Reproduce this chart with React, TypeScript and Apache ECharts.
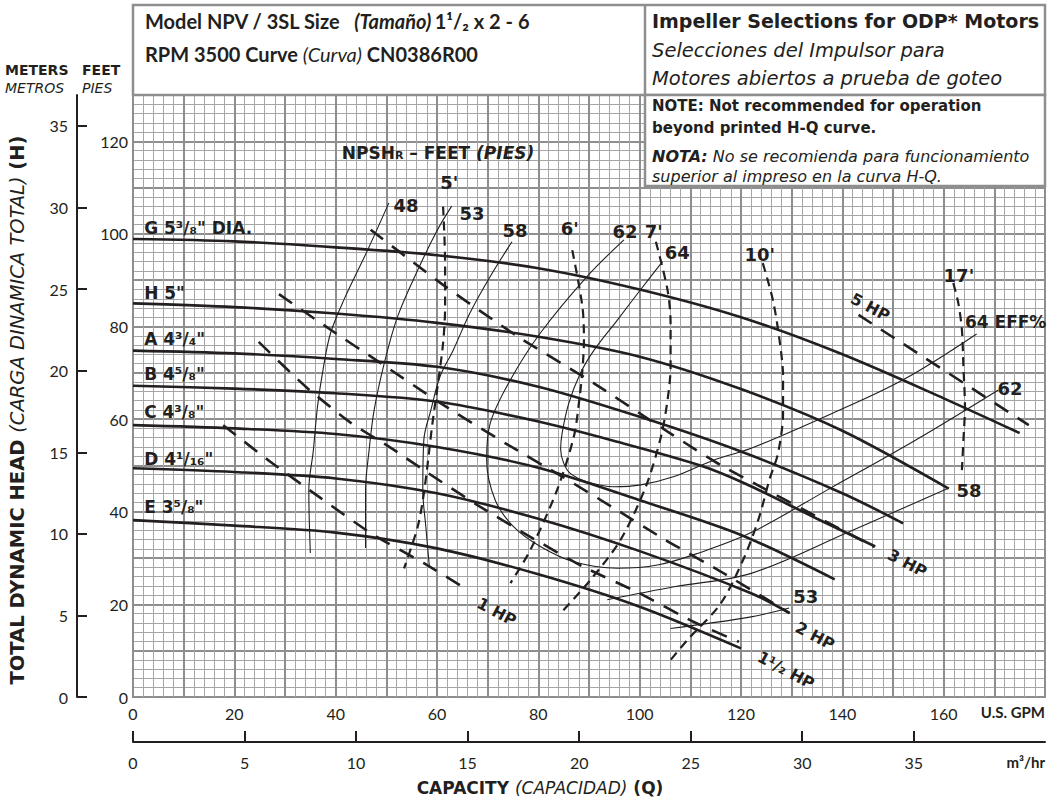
import React, { useEffect, useRef } from 'react';
import * as echarts from 'echarts';

// ---- tick labels ----
const gpmTickLabels = [0, 20, 40, 60, 80, 100, 120, 140, 160];
const feetTickLabels = [0, 20, 40, 60, 80, 100, 120];
const meterTicks = [0, 5, 10, 15, 20, 25, 30, 35];
const m3hTicks = [0, 5, 10, 15, 20, 25, 30, 35];

// ---- head-capacity curves (GPM, feet) ----
const headG = [[0, 98.9], [20, 98.4], [40, 97.1], [60, 95.4], [80, 92.6], [100, 88], [120, 82], [140, 74], [160, 64.5], [175, 57]];
const headH = [[0, 85], [20, 84.2], [40, 82.8], [60, 80.8], [80, 77.8], [100, 73.5], [120, 66.5], [140, 57.5], [161, 45]];
const headA = [[0, 74.8], [20, 74.2], [40, 73], [60, 71.3], [80, 67], [100, 60.5], [120, 53], [140, 44], [152, 37.5]];
const headB = [[0, 67.2], [20, 66.6], [40, 65.6], [60, 63.8], [80, 59.5], [95, 55.3], [112, 50], [121, 46], [135, 38.5], [146.5, 32.5]];
const headC = [[0, 58.7], [20, 58], [40, 56.8], [60, 54], [80, 49.5], [100, 42.5], [120, 35], [138.5, 25.4]];
const headD = [[0, 49.4], [20, 48.6], [40, 47.2], [60, 44], [80, 38.5], [100, 31.5], [122, 22.4], [129.6, 18.1]];
const headE = [[0, 38.2], [20, 37], [40, 35.5], [60, 32.1], [80, 26.5], [100, 19.5], [120, 10.5]];

// ---- efficiency contours (%) ----
const eff48 = [[50.5, 106.7], [46.3, 96.5], [41.6, 85.7], [39.0, 78.6], [37.6, 71.3], [36.4, 62.6], [35.6, 53.3], [34.7, 44.7], [35.0, 31.1]];
const eff53Left = [[62.9, 106.0], [60.1, 100.9], [56.2, 92.2], [52.2, 82.1], [49.6, 72.1], [47.6, 62.0], [46.6, 53.3], [45.9, 44.7], [45.9, 32.2]];
const eff53Right = [[106.1, 14.8], [122, 17.3], [129.5, 19.2]];
const eff58Left = [[74.8, 98.3], [70.5, 90.8], [66.5, 82.9], [63.2, 74.9], [60.6, 69.2], [58.8, 62.0], [57.4, 55.5], [57.2, 44.7], [57.8, 36.7], [58.5, 28.1]];
const eff58Right = [[93.6, 21.0], [106.8, 23.8], [122.0, 26.7], [140.8, 35.4], [160.9, 45.1]];
const eff62 = [[96.9, 98.7], [89.6, 90.8], [80.4, 78.6], [74.5, 68.5], [70.5, 59.1], [69.8, 51.2], [71.5, 42.5], [75.1, 36.8], [80.4, 32.5], [87.0, 29.2], [95.6, 27.8], [103.5, 28.5], [111.4, 31.0], [122.0, 35.5], [137.5, 45.0], [154.5, 55.5], [170.8, 66.3]];
const eff64 = [[104.5, 94.0], [100.2, 88.0], [95.6, 81.4], [91.0, 74.9], [88.3, 69.9], [86.0, 63.4], [84.7, 57.0], [84.4, 53.5], [85.0, 50.5], [86.3, 48.3], [89.6, 46.5], [94.9, 45.4], [100.2, 45.8], [106.8, 47.6], [114.7, 51.2], [122.0, 53.7], [137.5, 61.0], [152.0, 68.5], [166.5, 78.4]];

// ---- NPSHr lines (feet) ----
const npsh5 = [[61.2, 105.9], [61.6, 93.7], [61.6, 84.3], [61.2, 76.4], [60.1, 67.0], [59.1, 59.1], [57.5, 44.7], [56.2, 36.8], [53.5, 27.8]];
const npsh6 = [[86.7, 96.5], [88.7, 84.3], [89.0, 77.1], [88.7, 70.6], [88.0, 63.4], [87.0, 56.2], [83.7, 44.7], [78.4, 31.7], [74.5, 24.6]];
const npsh7 = [[103.2, 98.3], [105.5, 87.9], [106.1, 80.7], [106.1, 71.3], [105.5, 64.1], [104.2, 56.2], [101.2, 45.4], [96.2, 33.9], [90.3, 25.3], [84.4, 18.1]];
const npsh10 = [[124.3, 93.7], [126.3, 85.7], [127.6, 77.1], [128.3, 69.2], [128.3, 61.3], [127.3, 52.6], [125.6, 46.9], [123.6, 38.9], [120.7, 30.3], [116.0, 20.2], [109.4, 12.3], [106.1, 8.0]];
const npsh17 = [[161.9, 89.4], [162.9, 85.0], [163.6, 79.3], [163.9, 71.3], [164.2, 62.7], [163.9, 55.5], [163.6, 49.0]];

// ---- horsepower lines ----
const hp1 = [[17.8, 58.7], [27.1, 50.8], [37.0, 43.0], [46.9, 35.4], [57.4, 28.9], [65.5, 23.5]];
const hp15 = [[24.8, 76.7], [34.1, 67.0], [43.0, 59.2], [50.9, 53.8], [58.2, 48.4], [67.9, 41.5], [78.4, 34.6], [88.9, 28.1], [99.8, 22.5], [110.7, 16.2], [119.6, 11.9]];
const hp2 = [[28.8, 87.0], [39.0, 79.3], [48.9, 72.1], [60.6, 63.5], [74.1, 54.4], [84.7, 47.6], [94.9, 40.8], [105.1, 33.9], [116.0, 27.1], [129.6, 18.1]];
const hp3 = [[46.9, 100.9], [61.2, 89.0], [76.0, 77.8], [90.9, 67.8], [106.5, 56.6], [116.6, 49.7], [146.3, 32.4]];
const hp5 = [[143.2, 82.5], [176.8, 58.7]];

// ---- label texts ----
const headNames = ['G 5³/₈" DIA.', 'H 5"', 'A 4³/₄"', 'B 4⁵/₈"', 'C 4³/₈"', 'D 4¹/₁₆"', 'E 3⁵/₈"'];
const headLabelHeads = [101.3, 87.2, 77.3, 69.7, 61.5, 51.4, 41.0];
const smallLabels = ['48', '53', '58', '6\'', '62', '7\'', '64', '5\'', '10\'', '17\'', '62', '58', '53'];
const smallLabelAt = [[53.9, 106.2], [66.9, 104.5], [75.4, 100.8], [86.2, 101.1], [97.1, 100.6], [102.8, 100.6], [107.4, 95.9], [62.4, 111.0], [123.7, 95.5], [163.0, 91.1], [173.1, 66.7], [165.0, 44.5], [132.8, 21.6]];
const hpNames = ['5 HP', '3 HP', '2 HP', '1¹/₂ HP', '1 HP'];
const hpLabelAt = [[145.5, 84.2], [152.8, 28.9], [134.6, 13.2], [128.9, 5.8], [71.8, 18.4]];

const INK = '#231f20';
const GRIDMAJ = '#8e8e8e';
const GRIDMIN = '#a6a6a6';
const FONT = "Lato, 'Noto Sans', 'DejaVu Sans', sans-serif";
const WIDE = "'DejaVu Sans', Verdana, sans-serif";
const GPM_PER_M3H = 4.4029;

function lineSeries(name: string, data: number[][], width: number, type: any, smooth = 0.3) {
  return {
    name, type: 'line', data, showSymbol: false, symbol: 'none', smooth, silent: true,
    lineStyle: { color: INK, width, type }, z: 3,
  };
}

export default function App() {
  const ref = useRef<HTMLDivElement>(null);
  useEffect(() => {
    if (!ref.current) return;
    const chart = echarts.init(ref.current, undefined, { renderer: 'svg' });

    const headSeries = [headG, headH, headA, headB, headC, headD, headE].map((d, i) => lineSeries('head' + i, d, 2.6, 'solid', 0.3));
    const effSeries = [eff48, eff53Left, eff53Right, eff58Left, eff58Right, eff62, eff64].map((d, i) => lineSeries('eff' + i, d, 1.1, 'solid', 0.35));
    const npshSeries = [npsh5, npsh6, npsh7, npsh10, npsh17].map((d, i) => lineSeries('npsh' + i, d, 2.2, [9, 6], 0.3));
    const hpSeries = [hp1, hp15, hp2, hp3, hp5].map((d, i) => lineSeries('hp' + i, d, 2.6, [16, 11], 0.2));

    const labelData: any[] = [];
    headNames.forEach((t, i) => labelData.push({ value: [2.2, headLabelHeads[i]], label: { formatter: t, align: 'left', fontSize: 17 } }));
    smallLabels.forEach((t, i) => labelData.push({ value: smallLabelAt[i], label: { formatter: t } }));
    labelData.push({ value: [164.2, 81.0], label: { formatter: '64 EFF%', align: 'left', fontSize: 17 } });
    hpNames.forEach((t, i) => labelData.push({ value: hpLabelAt[i], label: { formatter: t, rotate: -28, fontSize: 16 } }));
    labelData.push({
      value: [60.2, 117.5],
      label: {
        formatter: '{b|NPSH}{s|R}{b| – FEET }{bi|(PIES)}',
        rich: {
          b: { fontFamily: WIDE, fontWeight: 'bold', fontSize: 17, color: INK },
          s: { fontFamily: WIDE, fontWeight: 'bold', fontSize: 11, color: INK, verticalAlign: 'bottom', padding: [6, 0, 0, 0] },
          bi: { fontFamily: WIDE, fontWeight: 'bold', fontStyle: 'italic', fontSize: 17, color: INK },
        },
      },
    });

    const labelSeries = {
      type: 'scatter', data: labelData, symbolSize: 0.1, silent: true, z: 6,
      itemStyle: { color: 'rgba(0,0,0,0)', opacity: 1 },
      label: { show: true, position: 'inside', fontFamily: WIDE, fontWeight: 'bold', fontSize: 18, color: INK, opacity: 1, textBorderWidth: 0 },
    };

    const txt = (text: string, x: number, y: number, size: number, weight = 'bold', style = 'normal', align = 'left', family = WIDE) => ({
      type: 'text', z: 110,
      style: { text, x, y, fill: INK, fontFamily: family, fontSize: size, fontWeight: weight, fontStyle: style, align, verticalAlign: 'middle' },
    });
    const richStyles = (size: number, family: string) => ({
      b: { fontFamily: family, fontWeight: 'bold', fontSize: size, fill: INK, color: INK },
      i: { fontFamily: family, fontStyle: 'italic', fontSize: size, fill: INK, color: INK },
      bi: { fontFamily: family, fontWeight: 'bold', fontStyle: 'italic', fontSize: size, fill: INK, color: INK },
    });

    const option: any = {
      animation: false,
      backgroundColor: '#fff',
      grid: { left: 133, top: 95, width: 912, height: 602, show: true, borderColor: GRIDMAJ, borderWidth: 2, backgroundColor: '#fff' },
      xAxis: [
        {
          type: 'value', min: 0, max: 180, interval: 10, position: 'bottom',
          axisLine: { show: false, onZero: false }, axisTick: { show: false },
          axisLabel: {
            fontFamily: FONT, fontSize: 16, color: INK, margin: 8,
            formatter: (v: number) => (gpmTickLabels.indexOf(v) >= 0 ? String(v) : ''),
          },
          splitLine: { show: true, lineStyle: { color: GRIDMAJ, width: 2 } },
          minorTick: { show: false, splitNumber: 5 },
          minorSplitLine: { show: true, lineStyle: { color: GRIDMIN, width: 1 } },
        },
        {
          type: 'value', min: 0, max: 180 / GPM_PER_M3H, interval: 5, position: 'bottom', offset: 45,
          axisLine: { show: true, onZero: false, lineStyle: { color: INK, width: 2 } },
          axisTick: { show: true, inside: true, length: 11, lineStyle: { color: INK, width: 2 }, customValues: m3hTicks },
          axisLabel: {
            fontFamily: FONT, fontSize: 16, color: INK, margin: 12, customValues: m3hTicks,
            formatter: (v: number) => (m3hTicks.indexOf(v) >= 0 ? String(v) : ''),
          },
          splitLine: { show: false },
        },
      ],
      yAxis: [
        {
          type: 'value', min: 0, max: 130, interval: 10, position: 'left',
          axisLine: { show: false, onZero: false }, axisTick: { show: false },
          axisLabel: {
            fontFamily: FONT, fontSize: 16, color: INK, margin: 5,
            formatter: (v: number) => (feetTickLabels.indexOf(v) >= 0 ? String(v) : ''),
          },
          splitLine: { show: true, lineStyle: { color: GRIDMAJ, width: 2 } },
          minorTick: { show: false, splitNumber: 5 },
          minorSplitLine: { show: true, lineStyle: { color: GRIDMIN, width: 1 } },
        },
        {
          type: 'value', min: 0, max: 36.9, interval: 5, position: 'left', offset: 56,
          axisLine: { show: true, onZero: false, lineStyle: { color: INK, width: 2 } },
          axisTick: { show: true, inside: true, length: 10, lineStyle: { color: INK, width: 2 }, customValues: meterTicks },
          axisLabel: {
            fontFamily: FONT, fontSize: 16, color: INK, margin: 9, customValues: meterTicks,
            formatter: (v: number) => (meterTicks.indexOf(v) >= 0 ? String(v) : ''),
          },
          splitLine: { show: false },
        },
      ],
      series: [...effSeries, ...npshSeries, ...hpSeries, ...headSeries, labelSeries],
      graphic: [
        { type: 'rect', z: 100, shape: { x: 133, y: 5, width: 912, height: 90 }, style: { fill: '#fff', stroke: GRIDMAJ, lineWidth: 2.5 } },
        { type: 'rect', z: 100, shape: { x: 645, y: 95, width: 400, height: 91 }, style: { fill: '#fff', stroke: GRIDMAJ, lineWidth: 2.5 } },
        { type: 'line', z: 101, shape: { x1: 645, y1: 5, x2: 645, y2: 95 }, style: { stroke: GRIDMAJ, lineWidth: 2.5 } },
        {
          type: 'text', z: 110,
          style: { text: '{b|Model NPV / 3SL Size}    {bi|(Tamaño)} {b|1¹/₂ x 2 - 6}', x: 145, y: 21, verticalAlign: 'middle', rich: richStyles(20, FONT) },
        },
        {
          type: 'text', z: 110,
          style: { text: '{b|RPM 3500 Curve }{i|(Curva)}{b| CN0386R00}', x: 145, y: 54, verticalAlign: 'middle', rich: richStyles(20, FONT) },
        },
        txt('Impeller Selections for ODP* Motors', 652, 21, 19, 'bold'),
        txt('Selecciones del Impulsor para', 652, 50, 19.5, 'normal', 'italic'),
        txt('Motores abiertos a prueba de goteo', 652, 78, 19.5, 'normal', 'italic'),
        txt('NOTE: Not recommended for operation', 652, 106, 15, 'bold'),
        txt('beyond printed H-Q curve.', 652, 128, 15, 'bold'),
        {
          type: 'text', z: 110,
          style: { text: '{bi|NOTA:}{i| No se recomienda para funcionamiento}', x: 652, y: 156, verticalAlign: 'middle', rich: richStyles(16, WIDE) },
        },
        txt('superior al impreso en la curva H-Q.', 652, 176, 16, 'normal', 'italic'),
        txt('METERS', 5, 70, 14, 'bold'),
        txt('FEET', 82, 70, 14, 'bold'),
        txt('METROS', 5, 88, 14, 'normal', 'italic'),
        txt('PIES', 82, 88, 14, 'normal', 'italic'),
        txt('U.S. GPM', 1045, 712, 15, 'bold', 'normal', 'right', FONT),
        txt('m³/hr', 1045, 762, 15, 'bold', 'normal', 'right', FONT),
        {
          type: 'text', z: 110,
          style: { text: '{b|CAPACITY }{i|(CAPACIDAD)}{b| (Q)}', x: 540, y: 788, align: 'center', verticalAlign: 'middle', rich: richStyles(17, WIDE) },
        },
        {
          type: 'text', z: 110, x: 17, y: 410, rotation: Math.PI / 2,
          style: { text: '{b|TOTAL DYNAMIC HEAD }{i|(CARGA DINAMICA TOTAL)}{b| (H)}', x: 0, y: 0, align: 'center', verticalAlign: 'middle', rich: richStyles(19.5, WIDE) },
        },
      ],
    };
    chart.setOption(option);
    return () => chart.dispose();
  }, []);
  return <div ref={ref} style={{ position: 'fixed', left: 0, top: 0, width: 1051, height: 799, background: '#fff' }} />;
}
